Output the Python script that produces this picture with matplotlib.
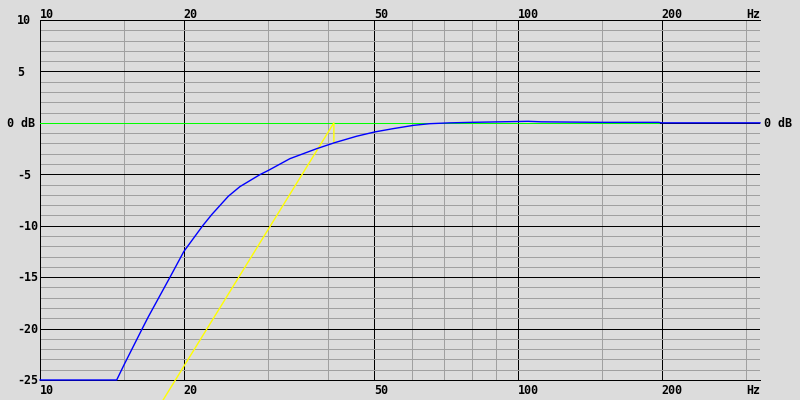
import numpy as np
import matplotlib
matplotlib.use("Agg")
import matplotlib.pyplot as plt

# values (Hz, dB)
blue_f = [10, 14.47, 15, 16.37, 16.85, 18.71, 20, 21.9, 22.87, 24.77, 26.2, 28.86, 30,
          33.34, 37.93, 41.4, 45.98, 50.2, 54.86, 60.5, 65.4, 72, 80, 97, 105, 112, 150,
          197, 200, 250, 321]
blue_db = [-25, -25, -23.5, -20, -18.86, -15, -12.5, -10, -8.92, -7.14, -6.2, -5.03, -4.64,
           -3.48, -2.51, -1.92, -1.30, -0.88, -0.56, -0.24, -0.08, 0.0, 0.05, 0.12, 0.15, 0.1,
           0.05, 0.05, 0.0, 0.0, 0.0]

green_f = [10, 197]
green_db = [0, 0]

yellow_f = [17.52, 41.2, 41.2]
yellow_db = [-28, 0, -1.92]

x_major = [10, 20, 50, 100, 200]
x_minor = [15, 30, 40, 60, 70, 80, 90, 150, 300]
x_labels = ["10", "20", "50", "100", "200"]
y_major = [10, 5, 0, -5, -10, -15, -20, -25]
y_labels = ["10", "5", "0 dB", "-5", "-10", "-15", "-20", "-25"]

bg = "#dcdcdc"
grey = "#a0a0a0"
lw = 0.72
font = dict(family="DejaVu Sans Mono", fontweight="bold", fontsize=8.4, color="black")

fig = plt.figure(figsize=(8, 4), dpi=100, facecolor=bg)
ax = fig.add_axes([0.05, 0.05, 0.9, 0.9], facecolor=bg)
ax.set_xscale("log")
ax.set_xlim(10, 321)
ax.set_ylim(-25, 10)

ax.set_xticks(x_major)
ax.set_xticks(x_minor, minor=True)
ax.set_yticks(y_major)
ax.set_yticks(np.arange(-25, 11, 1), minor=True)
ax.tick_params(which="both", length=0, labelbottom=False, labelleft=False)
ax.grid(which="minor", color=grey, lw=lw, antialiased=False)
ax.grid(which="major", color="black", lw=lw, antialiased=False)
ax.set_axisbelow(True)

for s in ["left", "top", "bottom"]:
    ax.spines[s].set_linewidth(lw)
    ax.spines[s].set_color("black")
ax.spines["right"].set_visible(False)

ax.plot(green_f, green_db, color="#00ff00", lw=lw, antialiased=False, zorder=3)
ax.plot(yellow_f, yellow_db, color="#ffff00", lw=1.0, zorder=3.1, clip_on=False)
ax.plot(blue_f, blue_db, color="#0000ff", lw=1.0, zorder=3.2, clip_on=False)

# frequency labels above and below the plot
xt = ax.get_xaxis_transform()
for f, lab in zip(x_major, x_labels):
    ax.text(f, 1 + 1.5 / 360, lab, transform=xt, ha="left", va="baseline", **font)
    ax.text(f, -14.5 / 360, lab, transform=xt, ha="left", va="baseline", **font)
ax.text(1.0, 1 + 1.5 / 360, "Hz", transform=ax.transAxes, ha="right", va="baseline", **font)
ax.text(1.0, -14.5 / 360, "Hz", transform=ax.transAxes, ha="right", va="baseline", **font)

# level labels on the left, 0 dB also on the right
yt = ax.get_yaxis_transform()
for v, lab in zip(y_major, y_labels):
    x0 = (7 - 40) / 720 if lab == "0 dB" else (17 - 40) / 720
    ax.text(x0, v - 0.42, lab, transform=yt, ha="left", va="baseline", **font)
ax.text((764 - 40) / 720, -0.42, "0 dB", transform=yt, ha="left", va="baseline", **font)

fig.savefig("out.png", dpi=100, facecolor=bg)
